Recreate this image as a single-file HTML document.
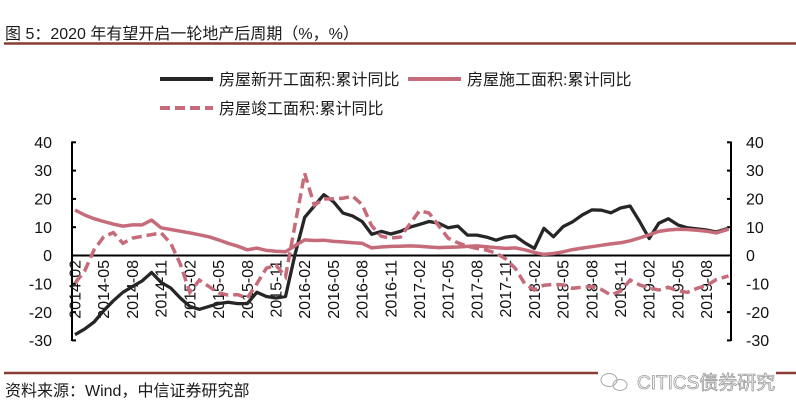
<!DOCTYPE html>
<html>
<head>
<meta charset="utf-8">
<style>
html,body{margin:0;padding:0;background:#fff;}
svg{display:block;}
text{font-family:"Liberation Sans","Noto Sans CJK SC",sans-serif;}
</style>
</head>
<body>
<svg width="796" height="416" viewBox="0 0 796 416" xmlns="http://www.w3.org/2000/svg">
<rect width="796" height="416" fill="#fff"/>
<!-- title -->
<text x="5" y="39" font-size="16" fill="#1a1a1a">图 5：2020 年有望开启一轮地产后周期（%，%）</text>
<line x1="4" y1="43.5" x2="796" y2="43.5" stroke="#8a3b34" stroke-width="2.5"/>

<!-- legend -->
<line x1="160" y1="79" x2="213" y2="79" stroke="#262626" stroke-width="4"/>
<text x="219" y="85" font-size="16" fill="#1a1a1a">房屋新开工面积:累计同比</text>
<line x1="408" y1="79" x2="461" y2="79" stroke="#c66b7a" stroke-width="4"/>
<text x="467" y="85" font-size="16" fill="#1a1a1a">房屋施工面积:累计同比</text>
<line x1="160" y1="108" x2="213" y2="108" stroke="#c66b7a" stroke-width="4" stroke-dasharray="10,5"/>
<text x="219" y="114" font-size="16" fill="#1a1a1a">房屋竣工面积:累计同比</text>

<!-- left axis -->
<g stroke="#000" stroke-width="2">
<line x1="72" y1="141.5" x2="72" y2="341"/>
<line x1="72" y1="142.3" x2="76" y2="142.3"/>
<line x1="72" y1="170.6" x2="76" y2="170.6"/>
<line x1="72" y1="198.9" x2="76" y2="198.9"/>
<line x1="72" y1="227.2" x2="76" y2="227.2"/>
<line x1="72" y1="283.8" x2="76" y2="283.8"/>
<line x1="72" y1="312.1" x2="76" y2="312.1"/>
<line x1="72" y1="340.4" x2="76" y2="340.4"/>
<!-- right axis -->
<line x1="731" y1="141.5" x2="731" y2="341"/>
<line x1="727" y1="142.3" x2="731" y2="142.3"/>
<line x1="727" y1="170.6" x2="731" y2="170.6"/>
<line x1="727" y1="198.9" x2="731" y2="198.9"/>
<line x1="727" y1="227.2" x2="731" y2="227.2"/>
<line x1="727" y1="283.8" x2="731" y2="283.8"/>
<line x1="727" y1="312.1" x2="731" y2="312.1"/>
<line x1="727" y1="340.4" x2="731" y2="340.4"/>
<!-- x axis -->
<line x1="71" y1="255.5" x2="732" y2="255.5"/>
</g>

<g font-size="16" fill="#111" text-anchor="end">
<text x="52" y="148">40</text>
<text x="52" y="176">30</text>
<text x="52" y="204.5">20</text>
<text x="52" y="233">10</text>
<text x="52" y="261">0</text>
<text x="52" y="289.5">-10</text>
<text x="52" y="318">-20</text>
<text x="52" y="346">-30</text>
</g>
<g font-size="16" fill="#111" text-anchor="start">
<text x="746" y="148">40</text>
<text x="746" y="176">30</text>
<text x="746" y="204.5">20</text>
<text x="746" y="233">10</text>
<text x="746" y="261">0</text>
<text x="746" y="289.5">-10</text>
<text x="746" y="318">-20</text>
<text x="746" y="346">-30</text>
</g>

<!-- x labels -->
<g font-size="16" fill="#111" text-anchor="end">
<text transform="translate(80.5,260) rotate(-90)">2014-02</text>
<text transform="translate(109.2,260) rotate(-90)">2014-05</text>
<text transform="translate(137.9,260) rotate(-90)">2014-08</text>
<text transform="translate(166.6,260) rotate(-90)">2014-11</text>
<text transform="translate(195.3,260) rotate(-90)">2015-02</text>
<text transform="translate(224.1,260) rotate(-90)">2015-05</text>
<text transform="translate(252.8,260) rotate(-90)">2015-08</text>
<text transform="translate(281.5,260) rotate(-90)">2015-11</text>
<text transform="translate(310.2,260) rotate(-90)">2016-02</text>
<text transform="translate(338.9,260) rotate(-90)">2016-05</text>
<text transform="translate(367.6,260) rotate(-90)">2016-08</text>
<text transform="translate(396.3,260) rotate(-90)">2016-11</text>
<text transform="translate(425.0,260) rotate(-90)">2017-02</text>
<text transform="translate(453.7,260) rotate(-90)">2017-05</text>
<text transform="translate(482.4,260) rotate(-90)">2017-08</text>
<text transform="translate(511.2,260) rotate(-90)">2017-11</text>
<text transform="translate(539.9,260) rotate(-90)">2018-02</text>
<text transform="translate(568.6,260) rotate(-90)">2018-05</text>
<text transform="translate(597.3,260) rotate(-90)">2018-08</text>
<text transform="translate(626.0,260) rotate(-90)">2018-11</text>
<text transform="translate(654.7,260) rotate(-90)">2019-02</text>
<text transform="translate(683.4,260) rotate(-90)">2019-05</text>
<text transform="translate(712.1,260) rotate(-90)">2019-08</text>
</g>

<!-- series: 新开工 -->
<polyline fill="none" stroke="#262626" stroke-width="3.3" stroke-linejoin="round" points="75.0,334.7 84.6,329.1 94.1,322.0 103.7,310.7 113.3,300.8 122.9,292.3 132.4,286.6 142.0,281.0 151.6,272.5 161.1,282.4 170.7,288.0 180.3,298.0 189.8,306.4 199.4,309.3 209.0,306.4 218.6,303.6 228.1,302.2 237.7,303.6 247.3,303.6 256.8,292.3 266.4,296.5 276.0,298.0 285.5,296.5 295.1,254.1 304.7,217.3 314.3,206.0 323.8,194.7 333.4,201.7 343.0,213.1 352.5,215.9 362.1,221.5 371.7,234.3 381.2,231.4 390.8,234.0 400.4,231.4 410.0,227.2 419.5,224.4 429.1,221.5 438.7,223.2 448.2,227.8 457.8,226.1 467.4,235.1 476.9,235.1 486.5,237.1 496.1,240.2 505.7,237.1 515.2,236.0 524.8,242.8 534.4,248.4 543.9,228.3 553.5,236.8 563.1,226.6 572.6,221.8 582.2,215.0 591.8,209.9 601.4,210.2 610.9,212.8 620.5,208.0 630.1,206.0 639.6,221.5 649.2,238.5 658.8,223.2 668.3,218.7 677.9,224.9 687.5,227.8 697.1,228.9 706.6,230.0 716.2,232.0 728.5,228.3"/>

<!-- series: 施工 -->
<polyline fill="none" stroke="#c66b7a" stroke-width="3.5" stroke-linejoin="round" points="75.0,210.0 84.6,215.0 94.1,218.7 103.7,221.5 113.3,224.1 122.9,226.1 132.4,224.9 142.0,224.9 151.6,220.1 161.1,227.8 170.7,229.5 180.3,231.2 189.8,232.9 199.4,234.8 209.0,236.8 218.6,239.9 228.1,243.3 237.7,246.2 247.3,249.8 256.8,248.1 266.4,250.4 276.0,251.3 285.5,251.8 295.1,245.6 304.7,239.9 314.3,240.5 323.8,240.2 333.4,241.4 343.0,241.9 352.5,242.8 362.1,243.3 371.7,247.9 381.2,247.0 390.8,246.4 400.4,246.2 410.0,245.9 419.5,246.2 429.1,247.0 438.7,247.6 448.2,247.3 457.8,247.0 467.4,246.4 476.9,245.9 486.5,246.7 496.1,247.6 505.7,248.4 515.2,247.9 524.8,249.8 534.4,252.4 543.9,254.4 553.5,253.5 563.1,251.8 572.6,249.6 582.2,248.1 591.8,246.7 601.4,245.3 610.9,243.9 620.5,242.8 630.1,240.8 639.6,238.0 649.2,234.8 658.8,231.4 668.3,230.0 677.9,229.2 687.5,229.5 697.1,230.3 706.6,231.2 716.2,232.9 728.5,229.2"/>

<!-- series: 竣工 -->
<polyline fill="none" stroke="#c66b7a" stroke-width="3.5" stroke-linejoin="miter" stroke-dasharray="10,5" points="75.0,283.2 84.6,271.1 94.1,249.8 103.7,236.8 113.3,232.6 122.9,243.3 132.4,238.2 142.0,236.3 151.6,234.6 161.1,232.9 170.7,243.3 180.3,264.0 189.8,292.3 199.4,280.1 209.0,286.6 218.6,292.9 228.1,295.1 237.7,294.6 247.3,298.0 256.8,283.8 266.4,268.2 276.0,265.1 285.5,276.7 295.1,224.4 304.7,173.4 314.3,205.1 323.8,198.9 333.4,198.9 343.0,198.3 352.5,196.1 362.1,204.6 371.7,225.8 381.2,236.3 390.8,238.0 400.4,237.1 410.0,223.8 419.5,210.8 429.1,213.1 438.7,225.8 448.2,238.2 457.8,242.8 467.4,246.2 476.9,248.4 486.5,250.1 496.1,253.2 505.7,258.9 515.2,268.2 524.8,283.8 534.4,290.0 543.9,285.2 553.5,284.4 563.1,284.9 572.6,288.3 582.2,287.2 591.8,286.6 601.4,289.5 610.9,295.1 620.5,291.2 630.1,280.1 639.6,284.9 649.2,288.0 658.8,290.0 668.3,287.2 677.9,290.9 687.5,292.3 697.1,288.3 706.6,285.5 716.2,279.6 728.5,275.9"/>

<!-- footer -->
<line x1="4" y1="373" x2="796" y2="373" stroke="#8a3b34" stroke-width="2.5"/>
<text x="5" y="396" font-size="16" fill="#1a1a1a">资料来源：Wind，中信证券研究部</text>

<!-- watermark -->
<rect x="598" y="366" width="178" height="28" fill="#fff"/>
<g fill="none" stroke="#a8a8a8" stroke-width="1">
<ellipse cx="609" cy="380" rx="8" ry="6.5"/>
<ellipse cx="620" cy="385" rx="7" ry="5.5"/>
</g>
<text x="637" y="389" font-size="19" fill="#fff" stroke="#9a9a9a" stroke-width="0.8">CITICS债券研究</text>
</svg>
</body>
</html>
